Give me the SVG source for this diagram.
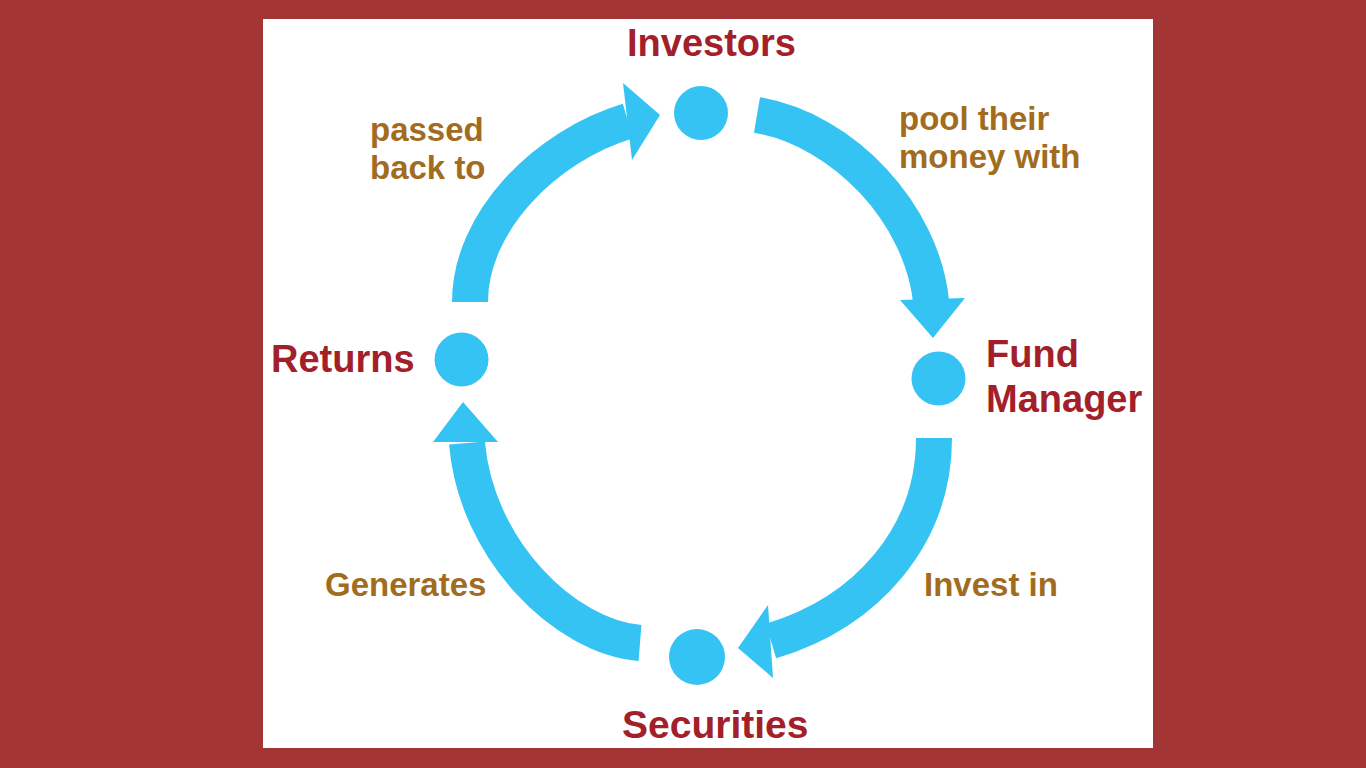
<svg xmlns="http://www.w3.org/2000/svg" width="1366" height="768" viewBox="0 0 1366 768">
  <style>
    .dot { fill: #35c3f3; }
    .shaft { fill: none; stroke: #35c3f3; stroke-width: 36; stroke-linecap: butt; }
    .head { fill: #35c3f3; }
    .node { font-family: "Liberation Sans", Arial, sans-serif; font-weight: bold; font-size: 38px; fill: #a3202b; }
    .edge { font-family: "Liberation Sans", Arial, sans-serif; font-weight: bold; font-size: 33px; fill: #a26c1f; }
  </style>
  <rect x="0" y="0" width="1366" height="768" fill="#a33535"/>
  <rect x="263" y="19" width="890" height="729" fill="#ffffff"/>

  <g id="connectors">
    <g id="edge-returns-investors">
      <path class="shaft" d="M470,302 C470,222 545,146 628,121"/>
      <polygon class="head" points="623,83 660,115 632,160"/>
      <text class="edge" x="370" y="141">passed</text>
      <text class="edge" x="370" y="179">back to</text>
    </g>
    <g id="edge-investors-fund">
      <path class="shaft" d="M757,115 C845,130 922,215 931,301"/>
      <polygon class="head" points="900,300 965,298 933,338"/>
      <text class="edge" x="899" y="130">pool their</text>
      <text class="edge" x="899" y="168">money with</text>
    </g>
    <g id="edge-fund-securities">
      <path class="shaft" d="M934,438 C934,535 868,612 771,641"/>
      <polygon class="head" points="768,605 738,648 773,678"/>
      <text class="edge" x="924" y="596">Invest in</text>
    </g>
    <g id="edge-securities-returns">
      <path class="shaft" d="M640,643 C565,637 476,550 467,443"/>
      <polygon class="head" points="433,442 463,402 498,442"/>
      <text class="edge" x="325" y="596">Generates</text>
    </g>
  </g>

  <g id="node-investors">
    <circle class="dot" cx="701" cy="113" r="27"/>
    <text class="node" x="627" y="56">Investors</text>
  </g>
  <g id="node-fund-manager">
    <circle class="dot" cx="938.5" cy="378.5" r="27"/>
    <text class="node" x="986" y="367">Fund</text>
    <text class="node" x="986" y="412">Manager</text>
  </g>
  <g id="node-securities">
    <circle class="dot" cx="697" cy="657" r="28"/>
    <text class="node" x="622" y="738" style="font-size:39px">Securities</text>
  </g>
  <g id="node-returns">
    <circle class="dot" cx="461.5" cy="359.5" r="27"/>
    <text class="node" x="271" y="372">Returns</text>
  </g>
</svg>
